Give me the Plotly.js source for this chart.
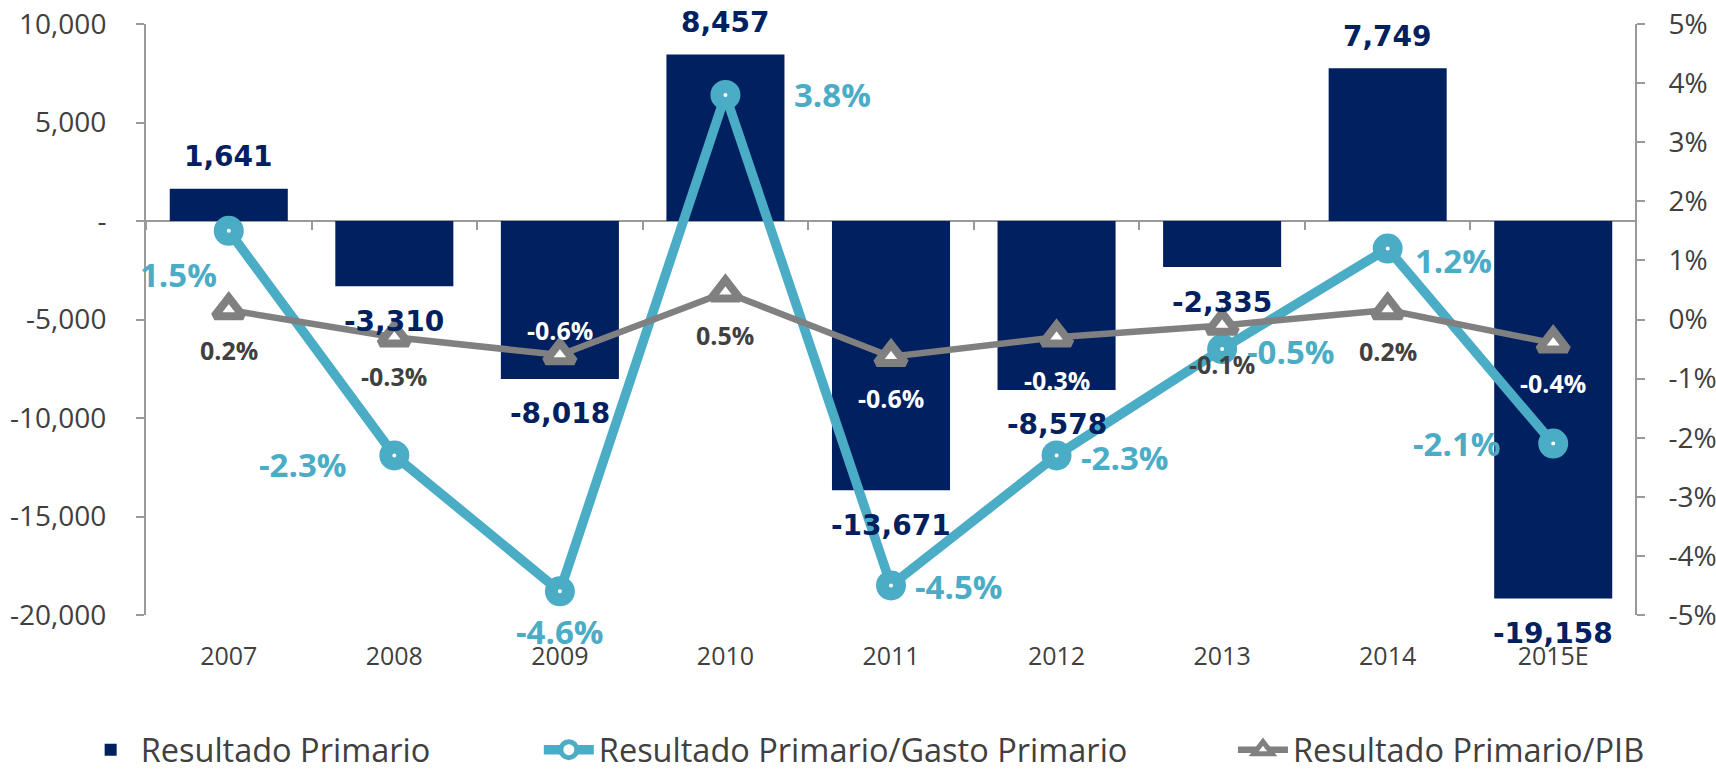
<!DOCTYPE html>
<html>
<head>
<meta charset="utf-8">
<script src="https://cdn.plot.ly/plotly-3.0.1.min.js"></script>
<style>html,body{margin:0;padding:0;background:#fff;}#chart{width:1716px;height:772px;}</style>
</head>
<body>
<div id="chart"></div>
<script>
// ---- data ----
const years = ['2007','2008','2009','2010','2011','2012','2013','2014','2015E'];
const resultadoPrimario = [1641, -3310, -8018, 8457, -13671, -8578, -2335, 7749, -19158];
const rpGastoPrimario = [1.5, -2.3, -4.6, 3.8, -4.5, -2.3, -0.5, 1.2, -2.1];   // %
const rpPIB = [0.16, -0.3, -0.6, 0.46, -0.63, -0.3, -0.1, 0.16, -0.4];        // %
const leftTicks = [-20000, -15000, -10000, -5000, 0, 5000, 10000];
const rightTicks = [-5, -4, -3, -2, -1, 0, 1, 2, 3, 4, 5];
const seriesNames = ['Resultado Primario', 'Resultado Primario/Gasto Primario', 'Resultado Primario/PIB'];

// ---- label placement (pixel offsets, style only) ----
const gastoLabelShift = [[-50,-44],[-91,-9],[0,-40],[107,0],[68,-1],[68,-2],[69,-2],[66,-12],[-96,0]];
const pibLabelShift = [-40,-39,25,-43,-41,-43,-39,-41,-40];
const pibLabelColor = ['#404040','#404040','#ffffff','#404040','#ffffff','#ffffff','#404040','#404040','#ffffff'];

const NAVY = '#002060', AQUA = '#4BACC6', GRAY = '#808080', TXT = '#404040', AX = '#9a9a9a';
const fmtNum = v => v === 0 ? '-' : v.toLocaleString('en-US');
const fmtPct = v => v.toFixed(1) + '%';

const traces = [
  {type:'bar', name: seriesNames[0], x: years, y: resultadoPrimario, xaxis:'x', yaxis:'y',
   marker:{color: NAVY}, legend:'legend', hoverinfo:'skip'},
  {type:'scatter', mode:'lines+markers', name: seriesNames[1], x: years, y: rpGastoPrimario,
   xaxis:'x2', yaxis:'y2', line:{color: AQUA, width: 9.5},
   marker:{symbol:'circle', size:17, color:'#ffffff', line:{color: AQUA, width:13}}, legend:'legend2', hoverinfo:'skip'},
  {type:'scatter', mode:'lines+markers', name: seriesNames[2], x: years, y: rpPIB,
   xaxis:'x2', yaxis:'y2', line:{color: GRAY, width: 6.5},
   marker:{symbol:'triangle-up', size:25, color:'#ffffff', line:{color: GRAY, width:8}}, legend:'legend3', hoverinfo:'skip'}
];

// annotations use the category index on the category axes
const annotations = [];
resultadoPrimario.forEach((v, i) => {
  annotations.push({xref:'x', yref:'y', x: i, y: v, text: fmtNum(v), showarrow:false,
    xanchor:'center', yanchor:'middle', yshift: v >= 0 ? 32 : -35,
    font:{family:'DejaVu Sans', size:28, color: NAVY, weight:'bold'}});
});
rpGastoPrimario.forEach((v, i) => {
  annotations.push({xref:'x2', yref:'y2', x: i, y: v, text: fmtPct(v), showarrow:false,
    xanchor:'center', yanchor:'middle', xshift: gastoLabelShift[i][0], yshift: gastoLabelShift[i][1],
    font:{family:'Open Sans', size:33, color: AQUA, weight:'bold'}});
});
rpPIB.forEach((v, i) => {
  annotations.push({xref:'x2', yref:'y2', x: i, y: v, text: fmtPct(v), showarrow:false,
    xanchor:'center', yanchor:'middle', yshift: pibLabelShift[i],
    font:{family:'Open Sans', size:25, color: pibLabelColor[i], weight:'bold'}});
});

const legendBase = {xref:'container', yref:'paper', y:-0.2285, yanchor:'middle', xanchor:'left',
  orientation:'h', bgcolor:'rgba(0,0,0,0)', itemwidth:50,
  font:{family:'Open Sans', size:32.5, color: TXT}};

const layout = {
  width:1716, height:772,
  margin:{l:146, r:80, t:24, b:157, autoexpand:false},
  paper_bgcolor:'#ffffff', plot_bgcolor:'#ffffff',
  bargap:0.287,
  showlegend:true,
  xaxis:{type:'category', range:[-0.5, 8.5], showline:false, ticks:'', showgrid:false, zeroline:false,
    tickfont:{family:'Open Sans', size:25, color: TXT}, ticklabelstandoff:24},
  xaxis2:{type:'category', overlaying:'x', anchor:'free', position: 2/3, range:[-0.5, 8.5],
    showline:true, linecolor: AX, linewidth:2, ticks:'outside', tickson:'boundaries', ticklen:8, tickwidth:2,
    tickcolor: AX, showticklabels:false, showgrid:false, zeroline:false, layer:'below traces'},
  yaxis:{range:[-20000, 10000], tickvals: leftTicks, ticktext: leftTicks.map(fmtNum),
    showline:true, linecolor: AX, linewidth:2, ticks:'outside', ticklen:8, tickwidth:2, tickcolor: AX,
    showgrid:false, zeroline:false, tickfont:{family:'Open Sans', size:28, color: TXT}, ticklabelstandoff:24},
  yaxis2:{range:[-5, 5], tickvals: rightTicks, ticktext: rightTicks.map(v => v + '%'), overlaying:'y',
    side:'right', anchor:'free', position:1,
    showline:true, linecolor: AX, linewidth:2, ticks:'outside', ticklen:8, tickwidth:2, tickcolor: AX,
    showgrid:false, zeroline:false, tickfont:{family:'Open Sans', size:28, color: TXT}, ticklabelstandoff:18},
  legend: Object.assign({}, legendBase, {x: 0.047}),
  legend2: Object.assign({}, legendBase, {x: 0.314}),
  legend3: Object.assign({}, legendBase, {x: 0.7185}),
  annotations: annotations
};

Plotly.newPlot('chart', traces, layout, {displayModeBar:false, staticPlot:true});
</script>
</body>
</html>
